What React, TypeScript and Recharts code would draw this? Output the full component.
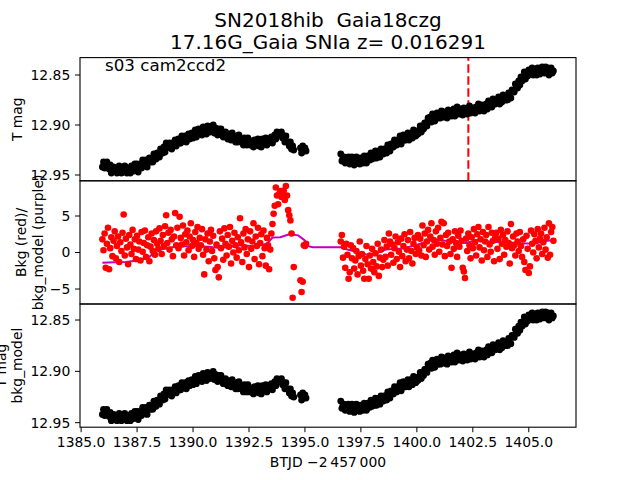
import React from 'react';
import { ComposedChart, Scatter, Line, XAxis, YAxis, ReferenceLine } from 'recharts';

// ---------- data ----------
const titleLines = ['SN2018hib  Gaia18czg', '17.16G_Gaia SNIa z= 0.016291'];
const sectorLabel = 's03 cam2ccd2';
const xLabel = 'BTJD \u22122\u2009457\u2009000';
const xTicks = [1385, 1387.5, 1390, 1392.5, 1395, 1397.5, 1400, 1402.5, 1405];
const magTicks = [12.85, 12.9, 12.95];
const bkgTicks = [-5, 0, 5];
const discoveryTime = 1402.3;

// observation times (BTJD) shared by the light curve and the background
const btjd = [
  1385.95, 1386.0, 1386.05, 1386.1, 1386.15, 1386.2, 1386.25, 1386.3, 1386.35, 1386.4,
  1386.45, 1386.5, 1386.55, 1386.6, 1386.65, 1386.7, 1386.75, 1386.8, 1386.85, 1386.9,
  1386.95, 1387.0, 1387.05, 1387.1, 1387.15, 1387.2, 1387.25, 1387.3, 1387.35, 1387.4,
  1387.45, 1387.5, 1387.55, 1387.6, 1387.65, 1387.7, 1387.75, 1387.8, 1387.85, 1387.9,
  1387.95, 1388.0, 1388.05, 1388.1, 1388.15, 1388.2, 1388.25, 1388.3, 1388.35, 1388.4,
  1388.45, 1388.5, 1388.55, 1388.6, 1388.65, 1388.7, 1388.75, 1388.8, 1388.85, 1388.9,
  1388.95, 1389.0, 1389.05, 1389.1, 1389.15, 1389.2, 1389.25, 1389.3, 1389.35, 1389.4,
  1389.45, 1389.5, 1389.55, 1389.6, 1389.65, 1389.7, 1389.75, 1389.8, 1389.85, 1389.9,
  1389.95, 1390.0, 1390.05, 1390.1, 1390.15, 1390.2, 1390.25, 1390.3, 1390.35, 1390.4,
  1390.45, 1390.5, 1390.55, 1390.6, 1390.65, 1390.7, 1390.75, 1390.8, 1390.85, 1390.9,
  1390.95, 1391.0, 1391.05, 1391.1, 1391.15, 1391.2, 1391.25, 1391.3, 1391.35, 1391.4,
  1391.45, 1391.5, 1391.55, 1391.6, 1391.65, 1391.7, 1391.75, 1391.8, 1391.85, 1391.9,
  1391.95, 1392.0, 1392.05, 1392.1, 1392.15, 1392.2, 1392.25, 1392.3, 1392.35, 1392.4,
  1392.45, 1392.5, 1392.55, 1392.6, 1392.65, 1392.7, 1392.75, 1392.8, 1392.85, 1392.9,
  1392.95, 1393.0, 1393.05, 1393.1, 1393.15, 1393.2, 1393.25, 1393.3, 1393.35, 1393.4,
  1393.45, 1393.5, 1393.55, 1393.6, 1393.65, 1393.7, 1393.75, 1393.8, 1393.85, 1393.9,
  1393.95, 1394.0, 1394.05, 1394.1, 1394.15, 1394.2, 1394.25, 1394.3, 1394.35, 1394.4,
  1394.45, 1394.5, 1394.8, 1394.85, 1394.9, 1394.95, 1395.0, 1395.05,
  1396.6, 1396.65, 1396.7, 1396.75, 1396.8, 1396.85, 1396.9, 1396.95, 1397.0, 1397.05,
  1397.1, 1397.15, 1397.2, 1397.25, 1397.3, 1397.35, 1397.4, 1397.45, 1397.5, 1397.55,
  1397.6, 1397.65, 1397.7, 1397.75, 1397.8, 1397.85, 1397.9, 1397.95, 1398.0, 1398.05,
  1398.1, 1398.15, 1398.2, 1398.25, 1398.3, 1398.35, 1398.4, 1398.45, 1398.5, 1398.55,
  1398.6, 1398.65, 1398.7, 1398.75, 1398.8, 1398.85, 1398.9, 1398.95, 1399.0, 1399.05,
  1399.1, 1399.15, 1399.2, 1399.25, 1399.3, 1399.35, 1399.4, 1399.45, 1399.5, 1399.55,
  1399.6, 1399.65, 1399.7, 1399.75, 1399.8, 1399.85, 1399.9, 1399.95, 1400.0, 1400.05,
  1400.1, 1400.15, 1400.2, 1400.25, 1400.3, 1400.35, 1400.4, 1400.45, 1400.5, 1400.55,
  1400.6, 1400.65, 1400.7, 1400.75, 1400.8, 1400.85, 1400.9, 1400.95, 1401.0, 1401.05,
  1401.1, 1401.15, 1401.2, 1401.25, 1401.3, 1401.35, 1401.4, 1401.45, 1401.5, 1401.55,
  1401.6, 1401.65, 1401.7, 1401.75, 1401.8, 1401.85, 1401.9, 1401.95, 1402.0, 1402.05,
  1402.1, 1402.15, 1402.2, 1402.25, 1402.3, 1402.35, 1402.4, 1402.45, 1402.5, 1402.55,
  1402.6, 1402.65, 1402.7, 1402.75, 1402.8, 1402.85, 1402.9, 1402.95, 1403.0, 1403.05,
  1403.1, 1403.15, 1403.2, 1403.25, 1403.3, 1403.35, 1403.4, 1403.45, 1403.5, 1403.55,
  1403.6, 1403.65, 1403.7, 1403.75, 1403.8, 1403.85, 1403.9, 1403.95, 1404.0, 1404.05,
  1404.1, 1404.15, 1404.2, 1404.25, 1404.3, 1404.35, 1404.4, 1404.45, 1404.5, 1404.55,
  1404.6, 1404.65, 1404.7, 1404.75, 1404.8, 1404.85, 1404.9, 1404.95, 1405.0, 1405.05,
  1405.1, 1405.15, 1405.2, 1405.25, 1405.3, 1405.35, 1405.4, 1405.45, 1405.5, 1405.55,
  1405.6, 1405.65, 1405.7, 1405.75, 1405.8, 1405.85, 1405.9, 1405.95, 1406.0, 1406.05,
  1406.1,
];

// TESS magnitude
const tmag = [
  12.942, 12.937, 12.943, 12.940, 12.937, 12.942, 12.944, 12.940, 12.948, 12.943,
  12.942, 12.946, 12.944, 12.948, 12.944, 12.941, 12.947, 12.948, 12.943, 12.947,
  12.941, 12.945, 12.948, 12.943, 12.946, 12.948, 12.941, 12.943, 12.946, 12.939,
  12.945, 12.939, 12.947, 12.941, 12.939, 12.943, 12.935, 12.940, 12.940, 12.935,
  12.942, 12.936, 12.933, 12.937, 12.935, 12.937, 12.929, 12.933, 12.934, 12.928,
  12.930, 12.932, 12.924, 12.926, 12.928, 12.922, 12.927, 12.918, 12.920, 12.922,
  12.918, 12.923, 12.924, 12.918, 12.919, 12.915, 12.921, 12.918, 12.914, 12.918,
  12.918, 12.911, 12.914, 12.916, 12.911, 12.917, 12.911, 12.909, 12.914, 12.911,
  12.908, 12.913, 12.910, 12.905, 12.912, 12.907, 12.904, 12.909, 12.907, 12.910,
  12.902, 12.908, 12.904, 12.909, 12.901, 12.904, 12.907, 12.902, 12.905, 12.900,
  12.908, 12.903, 12.907, 12.910, 12.904, 12.907, 12.904, 12.910, 12.912, 12.908,
  12.907, 12.911, 12.914, 12.909, 12.911, 12.915, 12.908, 12.914, 12.912, 12.917,
  12.911, 12.917, 12.910, 12.915, 12.917, 12.914, 12.920, 12.913, 12.917, 12.920,
  12.913, 12.918, 12.920, 12.916, 12.918, 12.922, 12.915, 12.920, 12.917, 12.914,
  12.921, 12.917, 12.922, 12.914, 12.919, 12.917, 12.913, 12.920, 12.917, 12.914,
  12.917, 12.912, 12.918, 12.913, 12.910, 12.914, 12.907, 12.910, 12.908, 12.910,
  12.907, 12.913, 12.911, 12.917, 12.911, 12.917, 12.917, 12.921, 12.917, 12.924,
  12.921, 12.925, 12.923, 12.928, 12.921, 12.926, 12.923, 12.926,
  12.929, 12.936, 12.933, 12.932, 12.938, 12.934, 12.937, 12.932, 12.939, 12.937,
  12.932, 12.938, 12.940, 12.935, 12.932, 12.938, 12.935, 12.939, 12.933, 12.936,
  12.938, 12.931, 12.935, 12.938, 12.931, 12.933, 12.935, 12.928, 12.934, 12.930,
  12.933, 12.926, 12.933, 12.929, 12.926, 12.932, 12.924, 12.928, 12.929, 12.924,
  12.924, 12.928, 12.920, 12.925, 12.926, 12.919, 12.920, 12.922, 12.915, 12.919,
  12.920, 12.915, 12.917, 12.911, 12.919, 12.914, 12.910, 12.915, 12.915, 12.911,
  12.908, 12.915, 12.910, 12.908, 12.913, 12.905, 12.910, 12.911, 12.906, 12.909,
  12.907, 12.901, 12.907, 12.901, 12.904, 12.898, 12.898, 12.901, 12.893, 12.896,
  12.892, 12.897, 12.889, 12.894, 12.896, 12.891, 12.888, 12.893, 12.890, 12.893,
  12.886, 12.891, 12.892, 12.887, 12.889, 12.893, 12.885, 12.890, 12.887, 12.891,
  12.889, 12.884, 12.891, 12.887, 12.882, 12.887, 12.889, 12.884, 12.885, 12.890,
  12.883, 12.888, 12.885, 12.889, 12.883, 12.881, 12.888, 12.886, 12.883, 12.887,
  12.888, 12.882, 12.885, 12.879, 12.886, 12.883, 12.880, 12.885, 12.886, 12.881,
  12.879, 12.884, 12.876, 12.881, 12.878, 12.882, 12.874, 12.878, 12.879, 12.875,
  12.877, 12.872, 12.879, 12.874, 12.877, 12.870, 12.874, 12.875, 12.871, 12.875,
  12.868, 12.872, 12.873, 12.865, 12.866, 12.867, 12.859, 12.862, 12.863, 12.856,
  12.860, 12.852, 12.856, 12.852, 12.847, 12.854, 12.848, 12.851, 12.845, 12.849,
  12.849, 12.843, 12.850, 12.846, 12.847, 12.850, 12.843, 12.844, 12.849, 12.845,
  12.842, 12.847, 12.848, 12.842, 12.846, 12.843, 12.850, 12.846, 12.843, 12.848,
  12.846,
];

// background flux (red points)
const bkg = [
  1.8, 0.3, 2.6, -2.1, 1.2, 3.4, -2.3, 0.6, 2.1, -0.5,
  1.6, 2.9, -0.8, 0.9, 2.2, -1.3, 1.4, 0.2, 2.7, 5.2,
  -0.4, 1.9, 0.7, -1.6, 2.4, 1.1, -0.2, 3.1, 0.5, 1.8,
  -0.9, 2.3, 0.4, 1.5, -1.1, 2.8, 0.1, 1.3, 3.0, -0.6,
  1.0, 2.1, -1.2, 0.8, 2.6, 0.2, 1.7, -0.3, 2.9, 1.2,
  0.5, 3.3, 1.6, -0.2, 2.4, 0.9, 3.6, 5.1, 1.3, 2.7,
  0.4, 3.1, 1.8, -0.5, 2.2, 5.4, 1.0, 3.4, 0.6, 4.9,
  2.0, 1.1, 3.7, -0.4, 2.5, 1.4, 3.0, 0.3, 2.2, 4.0,
  0.9, 1.7, -0.6, 2.8, 1.3, 3.5, 0.5, 2.0, 1.0, 3.2,
  -0.3, -3.0, 1.8, 0.4, 2.6, -1.2, 1.5, 3.1, 0.2, 2.3,
  -0.8, -2.4, 1.1, -2.0, -3.4, 2.9, 0.6, 1.9, -1.0, 3.3,
  1.2, -0.4, 2.4, 0.8, 3.5, -1.5, 1.6, 0.0, 2.7, 1.0,
  -0.7, 2.1, 0.3, 4.7, 1.4, -1.3, 2.6, 0.7, 3.2, -0.2,
  1.8, -2.0, 2.9, 0.5, 1.5, 4.0, -0.9, 2.2, 0.9, 3.4,
  -1.6, 1.3, 2.5, -0.5, 3.0, 0.6, -1.8, 2.0, 1.0, -2.3,
  0.4, 2.6, 3.9, 5.3, 6.4, 8.9, 7.8, 6.6, 8.0, 8.4,
  7.6, 8.0, 8.5, 7.2, 9.1, 7.8, 5.8, 5.1, 4.4, 2.6,
  -6.2, -2.0, -3.8, -5.4, -4.0, 1.0, 0.9, 1.2,
  1.5, 2.4, -0.7, 0.8, -2.1, 1.2, -0.3, -3.6, -2.7, 1.0,
  -0.8, 0.6, -2.2, -1.1, 0.2, -3.0, -0.5, 1.5, -1.8, -0.2,
  -2.5, -3.6, -0.9, 0.9, -1.6, -3.6, -0.4, -2.2, 0.5, -1.3,
  -2.7, -0.1, -1.9, 1.2, -3.2, -0.7, 0.4, -2.0, -1.0, 1.7,
  -0.6, 0.8, -1.8, 2.6, 1.5, -0.3, 1.1, -1.4, 0.6, 2.2,
  -0.9, 1.4, 0.1, -2.0, 1.9, -0.5, 0.9, 2.5, -1.2, 0.4,
  1.7, -0.8, 2.8, 0.2, -1.5, 1.2, 2.0, -0.2, 0.7, 2.4,
  0.3, 1.9, -0.4, 3.7, 1.0, 2.6, -0.6, 1.5, 3.1, 0.4,
  2.2, 4.0, 0.8, 1.7, -0.3, 2.9, 1.2, 3.4, 0.1, 2.0,
  4.2, 1.1, 4.0, -0.5, 2.4, 0.9, 2.7, 1.5, -0.2, -2.1,
  1.8, 0.5, 2.9, 1.3, -0.6, 2.3, 0.8, 3.0, 1.6, -2.1,
  -2.6, -3.5, 1.9, 0.2, 2.6, 1.0, -0.8, 2.1, 0.6, 3.2,
  1.4, -0.4, 2.5, 3.5, 0.7, 1.8, -1.1, 2.8, 0.3, 1.5,
  2.4, -0.6, 3.5, 1.1, 0.1, 2.7, 1.6, -1.2, 2.0, 2.7,
  0.5, 1.9, -0.9, 3.1, 1.2, 2.4, -0.3, 1.7, 0.8, 2.9,
  1.3, -1.5, 3.9, 0.6, 2.2, 1.0, -0.4, 2.6, 1.5, 0.2,
  2.8, 0.9, -0.6, 1.8, -1.3, -2.4, 2.3, 0.5, -2.8, -1.9,
  3.0, 1.2, 0.0, 2.5, 1.6, -0.8, 3.2, 0.7, 1.9, 2.6,
  -0.2, 1.4, 3.4, 0.4, 2.1, -0.7, 4.0, -0.3, 2.8, 3.5,
  1.6,
];

// background model (purple line)
const modelTime = [
  1385.95, 1386.5, 1387.0, 1387.6, 1388.05, 1388.35, 1388.8, 1389.3, 1390.2, 1390.7,
  1391.2, 1391.6, 1392.1, 1392.8, 1393.3, 1393.55, 1393.9, 1394.3, 1394.7, 1394.98,
  1395.15, 1395.35, 1396.6, 1396.85, 1397.3, 1397.85, 1398.15, 1398.6, 1399.35, 1399.95,
  1400.7, 1401.2, 1401.6, 1402.2, 1402.75, 1403.35, 1403.95, 1404.5, 1404.9, 1405.3,
  1405.75, 1406.05,
];
const bkgModel = [
  -1.4, -1.35, -1.3, -1.05, -0.6, 0.3, 0.55, 0.85, 0.85, 0.8,
  0.63, 0.75, 1.0, 0.86, 1.2, 2.05, 2.1, 2.5, 2.35, 1.7,
  0.86, 0.72, 0.72, 0.45, 0.09, -0.37, -0.14, 0.4, 0.54, 1.0,
  1.77, 1.65, 1.45, 1.31, 1.77, 1.45, 1.45, 1.3, 1.23, 1.23,
  1.59, 1.68,
];

// ---------- layout ----------
const W = 640;
const H = 480;
const L = 80;
const R = 576;
const T = 57.6;
const B = 427.2;
const PH = (B - T) / 3;
const XAXIS_H = 30;
const FONT = "'DejaVu Sans', sans-serif";

const xDomain: [number, number] = [1384.95, 1407.11];
const magDomainTop: [number, number] = [12.8326, 12.9558];
const magDomainBottom: [number, number] = [12.8344, 12.9544];
const bkgDomain: [number, number] = [-7.05, 9.82];

const tmagData = btjd.map((x, i) => ({ x, y: tmag[i] }));
const bkgData = btjd.map((x, i) => ({ x, y: bkg[i] }));
const modelData = modelTime.map((x, i) => ({ x, y: bkgModel[i] }));

const tickStyle = { fill: '#000', fontSize: 13.9, fontFamily: FONT };
const fmtMag = (v: number) => v.toFixed(2);
const fmtBkg = (v: number) => (v < 0 ? '\u2212' + Math.abs(v) : String(v));
const fmtX = (v: number) => v.toFixed(1);

const BlackDot = (p: any) => <circle cx={p.cx} cy={p.cy} r={3.4} fill="#000000" />;
const RedDot = (p: any) => <circle cx={p.cx} cy={p.cy} r={3.3} fill="#ff0000" />;

const chartStyle: React.CSSProperties = { position: 'absolute', left: 0, top: 0 };

function margins(i: number, xAxisH: number) {
  const top = T + i * PH;
  const bottom = H - (T + (i + 1) * PH) - xAxisH;
  return { top, bottom, left: 0, right: W - R };
}

const textStyle: React.CSSProperties = { whiteSpace: 'pre' };

export default function App() {
  return (
    <div style={{ position: 'absolute', left: 0, top: 0, width: W, height: H, background: '#fff', fontFamily: FONT }}>
      {/* top panel: T mag */}
      <div style={chartStyle}>
        <ComposedChart width={W} height={H} margin={margins(0, 0)}>
          <XAxis type="number" dataKey="x" domain={xDomain} allowDataOverflow hide />
          <YAxis
            type="number"
            dataKey="y"
            width={L}
            reversed
            domain={magDomainTop}
            allowDataOverflow
            ticks={magTicks}
            interval={0}
            tickFormatter={fmtMag}
            tick={tickStyle}
            tickSize={5}
            tickMargin={4.7}
            axisLine={false}
            tickLine={{ stroke: '#000' }}
          />
          <Scatter data={tmagData} dataKey="y" shape={BlackDot} isAnimationActive={false} />
          <ReferenceLine x={discoveryTime} stroke="#ff0000" strokeWidth={2} strokeDasharray="8.5 3.5" />
        </ComposedChart>
      </div>

      {/* middle panel: background */}
      <div style={chartStyle}>
        <ComposedChart width={W} height={H} margin={margins(1, 0)}>
          <XAxis type="number" dataKey="x" domain={xDomain} allowDataOverflow hide />
          <YAxis
            type="number"
            dataKey="y"
            width={L}
            domain={bkgDomain}
            allowDataOverflow
            ticks={bkgTicks}
            interval={0}
            tickFormatter={fmtBkg}
            tick={tickStyle}
            tickSize={5}
            tickMargin={4.7}
            axisLine={false}
            tickLine={{ stroke: '#000' }}
          />
          <Scatter data={bkgData} dataKey="y" shape={RedDot} isAnimationActive={false} />
          <Line data={modelData} dataKey="y" type="linear" stroke="#bf00bf" strokeWidth={2} dot={false} isAnimationActive={false} />
        </ComposedChart>
      </div>

      {/* bottom panel: T mag again */}
      <div style={chartStyle}>
        <ComposedChart width={W} height={H} margin={margins(2, XAXIS_H)}>
          <XAxis
            type="number"
            dataKey="x"
            domain={xDomain}
            allowDataOverflow
            ticks={xTicks}
            interval={0}
            tickFormatter={fmtX}
            tick={tickStyle}
            tickSize={5}
            tickMargin={5}
            height={XAXIS_H}
            axisLine={false}
            tickLine={{ stroke: '#000' }}
          />
          <YAxis
            type="number"
            dataKey="y"
            width={L}
            reversed
            domain={magDomainBottom}
            allowDataOverflow
            ticks={magTicks}
            interval={0}
            tickFormatter={fmtMag}
            tick={tickStyle}
            tickSize={5}
            tickMargin={4.7}
            axisLine={false}
            tickLine={{ stroke: '#000' }}
          />
          <Scatter data={tmagData} dataKey="y" shape={BlackDot} isAnimationActive={false} />
        </ComposedChart>
      </div>

      {/* frames and text */}
      <svg width={W} height={H} style={{ position: 'absolute', left: 0, top: 0, pointerEvents: 'none' }} fontFamily={FONT}>
        {[0, 1, 2].map((i) => (
          <rect key={i} x={L} y={T + i * PH} width={R - L} height={PH} fill="none" stroke="#000" strokeWidth={1.1} />
        ))}
        <text x={(L + R) / 2} y={26.5} textAnchor="middle" fontSize={20} fill="#000" style={textStyle}>{titleLines[0]}</text>
        <text x={(L + R) / 2} y={48.5} textAnchor="middle" fontSize={20} fill="#000" style={textStyle}>{titleLines[1]}</text>
        <text x={105} y={70.5} fontSize={16.7} fill="#000">{sectorLabel}</text>

        <text transform={`translate(17, ${T + PH / 2}) rotate(-90)`} textAnchor="middle" dominantBaseline="central" fontSize={13.9} fill="#000">T mag</text>
        <text transform={`translate(21, ${T + PH * 1.5}) rotate(-90)`} textAnchor="middle" dominantBaseline="central" fontSize={13.9} fill="#000">Bkg (red)/</text>
        <text transform={`translate(37.5, ${T + PH * 1.5}) rotate(-90)`} textAnchor="middle" dominantBaseline="central" fontSize={13.9} fill="#000">bkg_model (purple)</text>
        <text transform={`translate(0.5, ${T + PH * 2.5}) rotate(-90)`} textAnchor="middle" dominantBaseline="central" fontSize={13.9} fill="#000">T mag</text>
        <text transform={`translate(17, ${T + PH * 2.5}) rotate(-90)`} textAnchor="middle" dominantBaseline="central" fontSize={13.9} fill="#000">bkg_model</text>

        <text x={(L + R) / 2} y={467} textAnchor="middle" fontSize={13.9} fill="#000">{xLabel}</text>
      </svg>
    </div>
  );
}
